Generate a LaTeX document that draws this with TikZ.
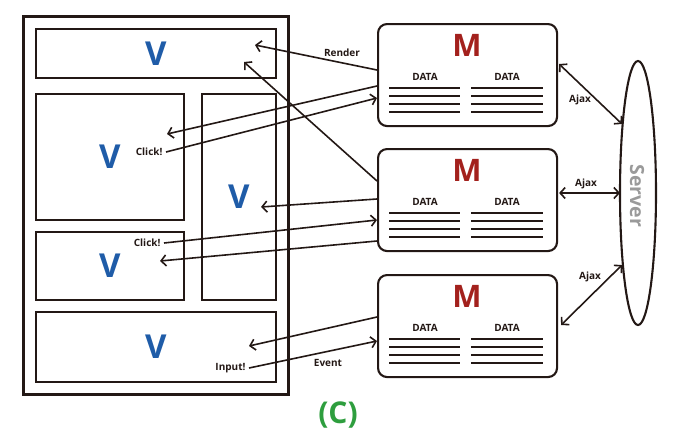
\documentclass[tikz,border=0pt]{standalone}
\usepackage{fontspec}
\setmainfont{Open Sans}
\usetikzlibrary{arrows.meta,calc,shapes.geometric}
\definecolor{ink}{HTML}{231815}
\definecolor{vblue}{HTML}{1F5CA8}
\definecolor{mred}{HTML}{A3211D}
\definecolor{cgreen}{HTML}{2E9E3E}
\definecolor{sgray}{HTML}{9A9A9A}
\tikzset{
  frame/.style={draw=ink, line width=2.6pt},
  vbox/.style={draw=ink, line width=1.8pt, anchor=north west, inner sep=0pt,
    font=\fontsize{33}{33}\selectfont\bfseries, text=vblue},
  mbox/.style={draw=ink, line width=2.1pt, rounded corners=9pt, anchor=north west, inner sep=0pt},
  mletter/.style={font=\fontsize{31}{31}\selectfont\bfseries, text=mred},
  datalbl/.style={font=\fontsize{10}{10}\selectfont\bfseries, text=ink},
  lbl/.style={font=\fontsize{10}{10}\selectfont\bfseries, text=ink},
  dline/.style={draw=ink, line width=2pt},
  flow/.style={draw=ink, line width=1.6pt, -{Straight Barb[length=5pt,width=11pt,line width=1.6pt]}},
  both/.style={draw=ink, line width=1.6pt, {Straight Barb[length=5pt,width=11pt,line width=1.6pt]}-{Straight Barb[length=5pt,width=11pt,line width=1.6pt]}},
}
\begin{document}
\begin{tikzpicture}[x=1pt,y=-1pt]
\useasboundingbox (0,0) rectangle (680,440);

% page holding the views
\node[frame, anchor=north west, inner sep=0pt, minimum width=265pt, minimum height=378pt] (page) at (22,15) {};

% view boxes
\node[vbox, minimum width=240pt, minimum height=49pt] (vtop) at (35,28) {V};
\node[vbox, minimum width=148pt, minimum height=126pt] (vleft) at (35,93) {V};
\node[vbox, minimum width=74pt, minimum height=206pt] (vright) at (201,93) {V};
\node[vbox, minimum width=148pt, minimum height=68pt] (vlow) at (35,231) {V};
\node[vbox, minimum width=240pt, minimum height=70pt] (vbot) at (35,311) {V};

% model boxes
\foreach \n/\y in {1/23, 2/148, 3/274} {
  \node[mbox, minimum width=179pt, minimum height=102pt] (m\n) at (377,\y) {};
  \node[mletter] (mt\n) at (467,\y+22) {M};
  \node[datalbl] (da\n) at (425,\y+54) {DATA};
  \node[datalbl] (db\n) at (507,\y+54) {DATA};
  \foreach \k in {0,1,2,3} {
    \draw[dline] (389,\y+65+8*\k) -- (460,\y+65+8*\k);
    \draw[dline] (471,\y+65+8*\k) -- (543,\y+65+8*\k);
  }
}

% server
\node[draw=ink, line width=2.1pt, ellipse, minimum width=36pt, minimum height=264pt, inner sep=0pt] (srv) at (638,193) {};
\node[rotate=-90, font=\fontsize{19.5}{19.5}\selectfont\bfseries, text=sgray] (srvt) at (637,196) {Server};

% arrow end points inside the views
\coordinate (pRender) at (255,45);
\coordinate (pTop2) at (244,62);
\coordinate (pClickA) at (167,134);
\coordinate (pRight) at (261,207);
\coordinate (pLow) at (160,261);
\coordinate (pBot) at (249,346);

% labels
\node[lbl] (lRender) at (342,53) {Render};
\node[lbl, anchor=east] (lClick1) at (166,152) {Click!};
\node[lbl, anchor=east] (lClick2) at (164,243) {Click!};
\node[lbl, anchor=east] (lInput) at (249,368) {Input!};
\node[lbl] (lEvent) at (328,363) {Event};
\node[lbl] (lAjax1) at (580,100) {Ajax};
\node[lbl] (lAjax2) at (586,184) {Ajax};
\node[lbl] (lAjax3) at (590,277) {Ajax};

% model -> view
\draw[flow] ($(m1.north west)+(0,47)$) -- (pRender);
\draw[flow] ($(m2.north west)+(0,33)$) -- (pTop2);
\draw[flow] ($(m1.north west)+(0,63)$) -- (pClickA);
\draw[flow] ($(m2.north west)+(0,51)$) -- (pRight);
\draw[flow] ($(m2.north west)+(0,93)$) -- (pLow);
\draw[flow] ($(m3.north west)+(0,43)$) -- (pBot);

% view events -> model
\draw[flow] (lClick1.east) -- ($(m1.north west)+(0,75)$);
\draw[flow] (lClick2.east) -- ($(m2.north west)+(0,72)$);
\draw[flow] (lInput.east) -- ($(m3.north west)+(0,67)$);

% ajax
\draw[both] ($(m1.north east)+(1,41)$) -- ($(srv.center)+(-16,-69)$);
\draw[both] ($(m2.north east)+(1,45)$) -- ($(srv.center)+(-18,0)$);
\draw[both] ($(m3.north east)+(3,51)$) -- ($(srv.center)+(-16,72)$);

% caption
\node[font=\fontsize{30}{30}\selectfont\bfseries, text=cgreen] (cap) at (338,415) {(C)};
\end{tikzpicture}
\end{document}
